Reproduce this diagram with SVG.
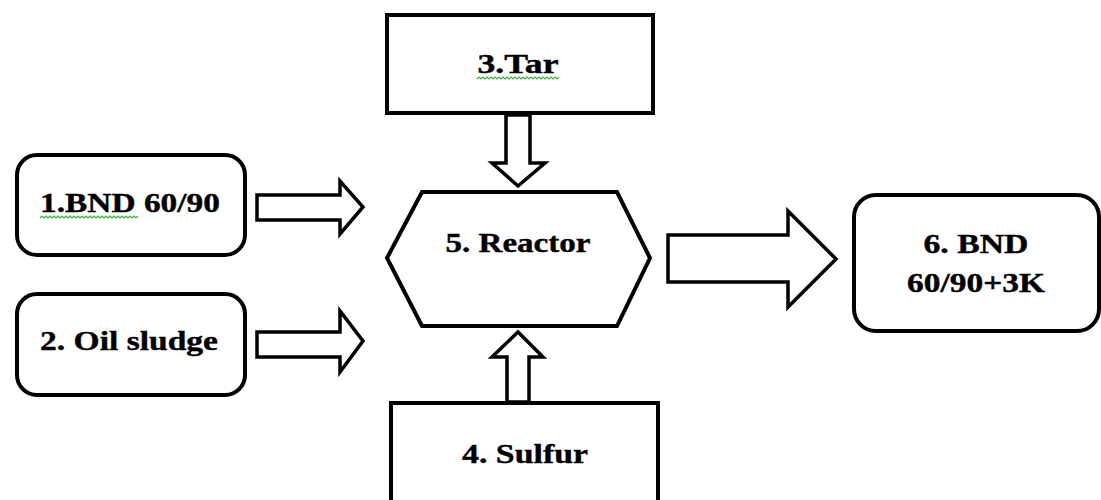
<svg xmlns="http://www.w3.org/2000/svg" width="1101" height="500" viewBox="0 0 1101 500">
  <style>
    .box { fill: #ffffff; stroke: #000000; stroke-width: 4; }
    .arrow { fill: #ffffff; stroke: #000000; stroke-width: 3.5; stroke-linejoin: miter; }
    .label { font-family: "Liberation Serif", "Times New Roman", serif; font-weight: bold; font-size: 28px; fill: #000000; stroke: #000000; stroke-width: 0.4; text-anchor: middle; }
    .squiggle { fill: none; stroke: #3cae3c; stroke-width: 1.2; }
  </style>
  <rect width="1101" height="500" fill="#ffffff"/>

  <g id="connectors">
    <!-- block arrows into and out of the reactor -->
    <polygon class="arrow" points="257,195 340,195 340,181 363,207 340,234 340,220 257,220"/>
    <polygon class="arrow" points="257,332 340,332 340,311 363,341 340,372 340,357 257,357"/>
    <polygon class="arrow" points="506,115 530,115 530,163 545,163 518,186 492,163 506,163"/>
    <polygon class="arrow" points="507,402 529,402 529,357 543,357 518,332 492,357 507,357"/>
    <polygon class="arrow" points="668,235 788,235 788,211 836,259 788,307 788,282 668,282"/>
  </g>

  <g id="node1">
    <rect class="box" x="17" y="155" width="228" height="100" rx="20" ry="20"/>
    <text class="label" x="130" y="212" textLength="180" lengthAdjust="spacingAndGlyphs">1.BND 60/90</text>
    <path class="squiggle" d="M40,218 l2,-2 l2,2 l2,-2 l2,2 l2,-2 l2,2 l2,-2 l2,2 l2,-2 l2,2 l2,-2 l2,2 l2,-2 l2,2 l2,-2 l2,2 l2,-2 l2,2 l2,-2 l2,2 l2,-2 l2,2 l2,-2 l2,2 l2,-2 l2,2 l2,-2 l2,2 l2,-2 l2,2 l2,-2 l2,2 l2,-2 l2,2 l2,-2 l2,2 l2,-2 l2,2 l2,-2 l2,2 l2,-2 l2,2 l2,-2 l2,2 l2,-2 l2,2 l2,-2 l2,2 l2,-2"/>
  </g>

  <g id="node2">
    <rect class="box" x="17" y="294" width="228" height="101" rx="20" ry="20"/>
    <text class="label" x="129" y="350" textLength="178" lengthAdjust="spacingAndGlyphs">2. Oil sludge</text>
  </g>

  <g id="node3">
    <rect class="box" x="387" y="15" width="266" height="98"/>
    <text class="label" x="518" y="73" textLength="81" lengthAdjust="spacingAndGlyphs">3.Tar</text>
    <path class="squiggle" d="M477,79 l2,-2 l2,2 l2,-2 l2,2 l2,-2 l2,2 l2,-2 l2,2 l2,-2 l2,2 l2,-2 l2,2 l2,-2 l2,2 l2,-2 l2,2 l2,-2 l2,2 l2,-2 l2,2 l2,-2 l2,2 l2,-2 l2,2 l2,-2 l2,2 l2,-2 l2,2 l2,-2 l2,2 l2,-2 l2,2 l2,-2 l2,2 l2,-2 l2,2 l2,-2 l2,2 l2,-2 l2,2 l2,-2"/>
  </g>

  <g id="node4">
    <rect class="box" x="391" y="403" width="267" height="120"/>
    <text class="label" x="525" y="463" textLength="126" lengthAdjust="spacingAndGlyphs">4. Sulfur</text>
  </g>

  <g id="node5">
    <polygon class="box" points="387,258 422,192 617,192 650,258 617,326 422,326"/>
    <text class="label" x="518" y="252" textLength="145" lengthAdjust="spacingAndGlyphs">5. Reactor</text>
  </g>

  <g id="node6">
    <rect class="box" x="854" y="195" width="245" height="136" rx="22" ry="22"/>
    <text class="label" x="976" y="253" textLength="105" lengthAdjust="spacingAndGlyphs">6. BND</text>
    <text class="label" x="976" y="292" textLength="138" lengthAdjust="spacingAndGlyphs">60/90+3K</text>
  </g>
</svg>
